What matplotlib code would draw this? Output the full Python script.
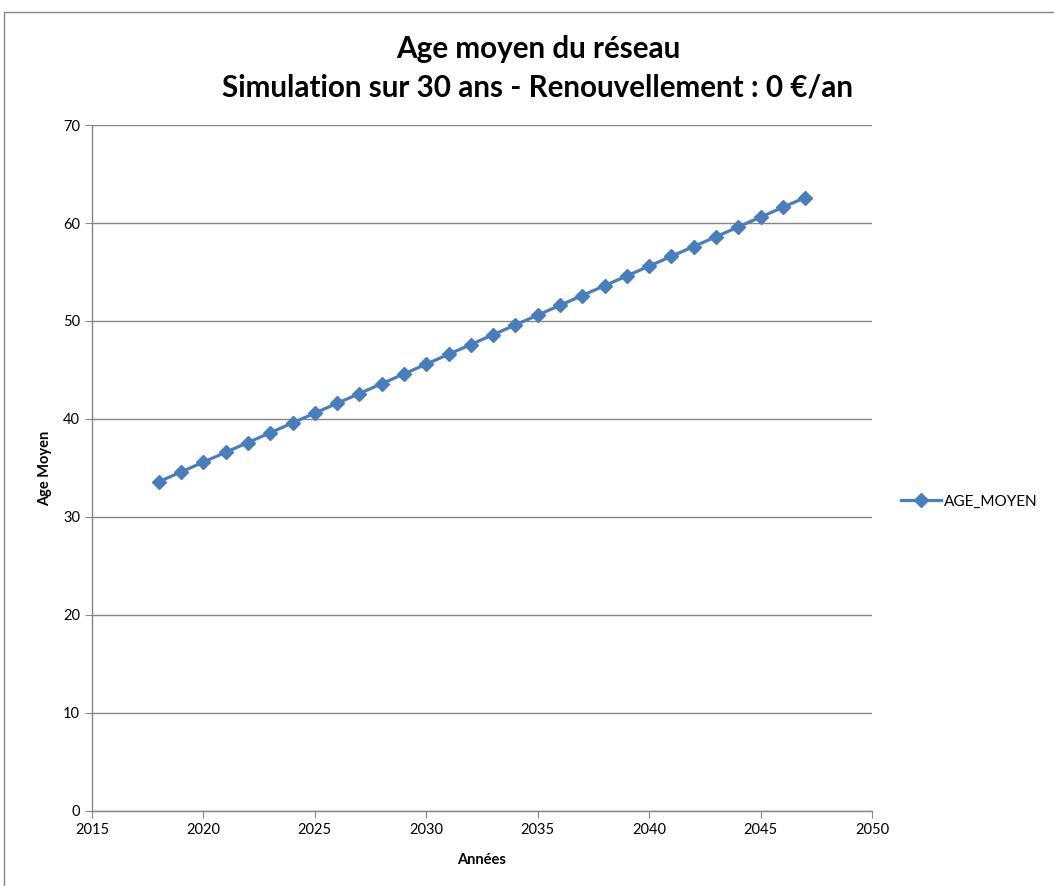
import matplotlib.pyplot as plt
from matplotlib.patches import Rectangle

# data
years = [2018, 2019, 2020, 2021, 2022, 2023, 2024, 2025, 2026, 2027,
         2028, 2029, 2030, 2031, 2032, 2033, 2034, 2035, 2036, 2037,
         2038, 2039, 2040, 2041, 2042, 2043, 2044, 2045, 2046, 2047]
age_moyen = [33.6, 34.6, 35.6, 36.6, 37.6, 38.6, 39.6, 40.6, 41.6, 42.6,
             43.6, 44.6, 45.6, 46.6, 47.6, 48.6, 49.6, 50.6, 51.6, 52.6,
             53.6, 54.6, 55.6, 56.6, 57.6, 58.6, 59.6, 60.6, 61.6, 62.6]
x_ticks = [2015, 2020, 2025, 2030, 2035, 2040, 2045, 2050]
y_ticks = [0, 10, 20, 30, 40, 50, 60, 70]

plt.rcParams['font.family'] = ['Lato', 'DejaVu Sans']

fig = plt.figure(figsize=(10.54, 8.86), dpi=100)
ax = fig.add_axes([0.0873, 0.0847, 0.74, 0.7742])

blue = '#4A7EBB'
ax.plot(years, age_moyen, color=blue, linewidth=2.3, marker='D',
        markersize=7, markerfacecolor=blue, markeredgecolor=blue,
        label='AGE_MOYEN')

ax.set_xlim(2015, 2050)
ax.set_ylim(0, 70)
ax.set_xticks(x_ticks)
ax.set_yticks(y_ticks)
ax.tick_params(labelsize=10.5, color='#868686', length=5, direction='out')
ax.yaxis.grid(True, color='#868686', linewidth=1)
ax.set_axisbelow(True)
for side in ['top', 'right']:
    ax.spines[side].set_visible(False)
for side in ['left', 'bottom']:
    ax.spines[side].set_color('#868686')
    ax.spines[side].set_linewidth(1)

ax.set_xlabel('Années', fontsize=10.5, fontweight='bold', labelpad=12)
ax.set_ylabel('Age Moyen', fontsize=10.5, fontweight='bold', labelpad=8)

fig.text(0.5104, 0.945, 'Age moyen du réseau', ha='center', va='center',
         fontsize=21.3, fontweight='bold')
fig.text(0.5104, 0.901, 'Simulation sur 30 ans - Renouvellement : 0 €/an',
         ha='center', va='center', fontsize=21.3, fontweight='bold')

fig.legend(loc='center left', bbox_to_anchor=(0.842, 0.434), frameon=False,
           fontsize=11, handlelength=2.6, handletextpad=0.2)

# outer chart border
fig.patches.append(Rectangle((4 / 1054, -0.01), 1.1, 1.0 - 12 / 886 + 0.01,
                             transform=fig.transFigure, fill=False,
                             edgecolor='#868686', linewidth=1))

fig.savefig('out.png', dpi=100)
